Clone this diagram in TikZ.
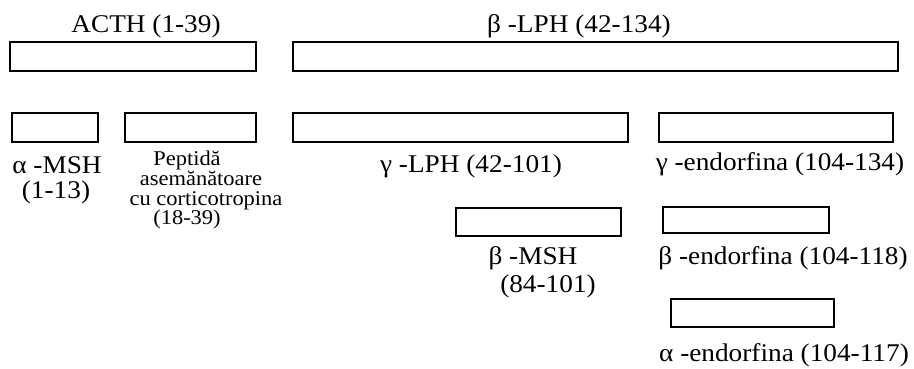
\documentclass[tikz,border=0pt]{standalone}
\usepackage{fontspec}
\setmainfont{Liberation Serif}[FakeStretch=1.07]
\begin{document}
\begin{tikzpicture}[x=1pt,y=-1pt,
  box/.style={draw=black, line width=1.8pt, fill=white, inner sep=0pt, outer sep=0pt},
  lbl/.style={inner sep=0pt, anchor=base, font=\fontsize{25.5}{30}\selectfont},
  small/.style={inner sep=0pt, anchor=base, font=\fontsize{21}{25}\selectfont}]
\useasboundingbox[fill=white] (0,0) rectangle (914,368);
% boxes
\node[box, minimum width=246pt, minimum height=29pt] (acth) at (133,56.5) {};
\node[box, minimum width=605pt, minimum height=29pt] (blph) at (595.5,56.5) {};
\node[box, minimum width=86pt, minimum height=29pt] (amsh) at (55,127.5) {};
\node[box, minimum width=131pt, minimum height=29pt] (pept) at (190.5,127.5) {};
\node[box, minimum width=335pt, minimum height=29pt] (glph) at (460.5,127.5) {};
\node[box, minimum width=234pt, minimum height=29pt] (gend) at (776,127.5) {};
\node[box, minimum width=165pt, minimum height=28pt] (bmsh) at (538.5,222) {};
\node[box, minimum width=166pt, minimum height=26pt] (bend) at (746,220) {};
\node[box, minimum width=163pt, minimum height=28pt] (aend) at (752.5,313) {};
% labels
\node[lbl] (tacth) at (146,32) {ACTH (1-39)};
\node[lbl] (tblph) at (579,32) {β -LPH (42-134)};
\node[lbl] (tamsh1) at (57,173) {α -MSH};
\node[lbl] (tamsh2) at (56,198) {(1-13)};
\node[small] (tpept1) at (187,165) {Peptidă};
\node[small] (tpept2) at (201,185) {asemănătoare};
\node[small] (tpept3) at (206,205) {cu corticotropina};
\node[small] (tpept4) at (187,224) {(18-39)};
\node[lbl] (tglph) at (471,172) {γ -LPH (42-101)};
\node[lbl] (tgend) at (780,170) {γ -endorfina (104-134)};
\node[lbl] (tbmsh1) at (533,264) {β -MSH};
\node[lbl] (tbmsh2) at (548,292) {(84-101)};
\node[lbl] (tbend) at (783,264) {β -endorfina (104-118)};
\node[lbl] (taend) at (784,361) {α -endorfina (104-117)};
\end{tikzpicture}
\end{document}
